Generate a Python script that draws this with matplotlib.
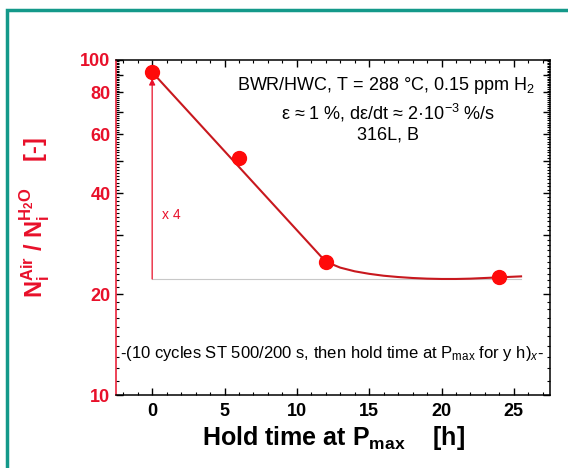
import matplotlib
matplotlib.use("Agg")
import matplotlib.pyplot as plt
from matplotlib.patches import Rectangle
from matplotlib.ticker import FixedLocator, FixedFormatter, MultipleLocator
import numpy as np

plt.rcParams["font.family"] = ["Liberation Sans", "DejaVu Sans"]
plt.rcParams["mathtext.fontset"] = "custom"
plt.rcParams["mathtext.rm"] = "Liberation Sans"
plt.rcParams["mathtext.it"] = "Liberation Sans:italic"
plt.rcParams["mathtext.bf"] = "Liberation Sans:bold"

# data
hold_time = [0, 6, 12, 24]
ratio = [92, 51, 25, 22.5]
fit_x = [0, 12, 13, 14, 15, 16, 17, 18, 19, 20, 21, 22, 23, 24, 25.5]
fit_y = [92, 25, 24.0, 23.4, 23.0, 22.7, 22.5, 22.35, 22.25, 22.2, 22.2, 22.25, 22.35, 22.45, 22.6]
ref_level = 22.2
arrow_top = 88
yticks_major = [10, 20, 30, 40, 50, 60, 70, 80, 90, 100]
ytick_labels = ["10", "20", "", "40", "", "60", "", "80", "", "100"]
xticks_major = [0, 5, 10, 15, 20, 25]

RED = "#e8102a"
LINE = "#c8181e"

fig = plt.figure(figsize=(5.68, 4.68), dpi=100)
fig.patch.set_facecolor("white")
fig.patches.append(Rectangle((7/568, -0.05), 1.2, (468 - 10)/468 + 0.05,
                             transform=fig.transFigure, fill=False,
                             edgecolor="#14998a", linewidth=2.5))

ax = fig.add_axes([116/568, 1 - 395/468, (550 - 116)/568, (395 - 60)/468])
ax.set_yscale("log")
ax.set_xlim(-2.5, 27.5)
ax.set_ylim(10, 100)

ax.plot(fit_x, fit_y, color=LINE, lw=1.5, zorder=3)
ax.plot(hold_time, ratio, "o", color="#ff0a0a", ms=10, zorder=4)
ax.plot([0, 25.5], [ref_level, ref_level], color="#c8c8c8", lw=0.8, zorder=2)
ax.annotate("", xy=(0, arrow_top), xytext=(0, ref_level),
            arrowprops=dict(arrowstyle="-|>", color=RED, lw=0.9,
                            mutation_scale=9, shrinkA=0, shrinkB=0))
ax.text(0.7, 34.5, "x 4", color=RED, fontsize=10, va="center")

ax.text(16.2, 84.2, r"BWR/HWC, T = 288 °C, 0.15 ppm H$_2$", ha="center", va="center", fontsize=13)
ax.text(16.3, 69.5, r"ε ≈ 1 %, dε/dt ≈ 2·10$^{-3}$ %/s", ha="center", va="center", fontsize=13)
ax.text(16.3, 59.7, "316L, B", ha="center", va="center", fontsize=13)
ax.text(-2.25, 13.3, r"-(10 cycles ST 500/200 s, then hold time at P$_{\mathrm{max}}$ for y h)$_x$-",
        ha="left", va="center", fontsize=12)

ax.yaxis.set_major_locator(FixedLocator(yticks_major))
ax.yaxis.set_major_formatter(FixedFormatter(ytick_labels))
ax.yaxis.set_minor_locator(FixedLocator([v for v in range(11, 100) if v % 10 != 0]))
ax.yaxis.set_minor_formatter(FixedFormatter([]))
ax.xaxis.set_major_locator(FixedLocator(xticks_major))
ax.xaxis.set_minor_locator(MultipleLocator(1))

ax.tick_params(axis="both", which="both", direction="in", top=True, right=True)
ax.tick_params(axis="both", which="major", length=5, width=1)
ax.tick_params(axis="both", which="minor", length=2.5, width=0.8)
ax.tick_params(axis="x", labelsize=13, pad=6)
ax.tick_params(axis="y", labelsize=13, labelcolor=RED, pad=4)
for lab in ax.get_xticklabels() + ax.get_yticklabels():
    lab.set_fontweight("bold")
ax.spines["left"].set_color(RED)
for t in ax.yaxis.get_major_ticks() + ax.yaxis.get_minor_ticks():
    t.tick1line.set_color(RED)
for s in ax.spines.values():
    s.set_linewidth(1.1)

ax.set_xlabel(r"Hold time at P$_{\mathbf{max}}$    [h]", fontsize=18, fontweight="bold", labelpad=3)
ax.set_ylabel(r"N$_\mathbf{i}^\mathbf{Air}$ / N$_\mathbf{i}^\mathbf{H_2O}$    [-]",
              fontsize=17, fontweight="bold", color=RED)
ax.yaxis.set_label_coords(-0.148, 0.53)

fig.savefig("out.png", dpi=100, facecolor="white")
